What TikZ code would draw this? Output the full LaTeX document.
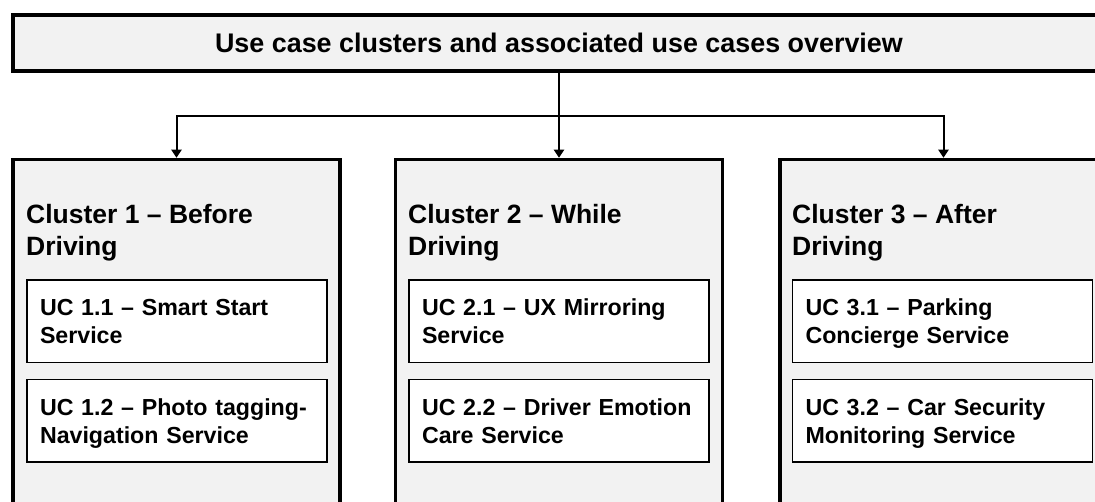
\documentclass[tikz,border=0pt]{standalone}
\usepackage{fontspec}
\setmainfont{Liberation Sans}
\usetikzlibrary{arrows.meta}
\definecolor{boxgray}{HTML}{F2F2F2}
\newcommand{\uctext}[2]{\rule{0pt}{22pt}#1\\#2\rule[-4.5pt]{0pt}{4.5pt}}
\begin{document}
\begin{tikzpicture}[x=1pt,y=-1pt,
  frame/.style={draw=black, line width=3.5pt, fill=boxgray, inner sep=0pt},
  titlebox/.style={frame, minimum width=1092pt, minimum height=56pt,
    font=\fontsize{26.9}{32}\selectfont\bfseries},
  cluster/.style={frame, minimum width=327pt, minimum height=360pt},
  heading/.style={anchor=north west, inner sep=0pt, align=left,
    font=\fontsize{26.5}{32}\selectfont\bfseries},
  ucbox/.style={draw=black, line width=1.3pt, fill=white, minimum width=300pt,
    minimum height=82.5pt, inner xsep=13pt, inner ysep=0pt, text width=274pt,
    align=left, font=\fontsize{23.2}{28}\selectfont\bfseries},
  conn/.style={draw=black, line width=2pt},
  arr/.style={conn, -{Triangle[width=10pt,length=8pt]}}]
\useasboundingbox (0,0) rectangle (1095,502);
\clip (0,0) rectangle (1095,502);

\node[titlebox] (title) at (559,43) {Use case clusters and associated use cases overview};

\node[cluster] (c1) at (176.5,339.5) {};
\node[cluster] (c2) at (559,339.5) {};
\node[cluster] (c3) at (943.5,339.5) {};

\coordinate (j) at (559,116);
\draw[arr] (title.south) -- (c2.north);
\draw[arr] (j) -| (c1.north);
\draw[arr] (j) -| (c3.north);

\node[heading] (h1) at (26,203.7) {Cluster 1 -- Before\\Driving};
\node[heading] (h2) at (408,203.7) {Cluster 2 -- While\\Driving};
\node[heading] (h3) at (792,203.7) {Cluster 3 -- After\\Driving};

\node[ucbox] (u11) at (177,321.25) {\uctext{UC 1.1 -- Smart Start}{Service}};
\node[ucbox] (u12) at (177,420.75) {\uctext{UC 1.2 -- Photo tagging-}{Navigation Service}};
\node[ucbox] (u21) at (559,321.25) {\uctext{UC 2.1 -- UX Mirroring}{Service}};
\node[ucbox] (u22) at (559,420.75) {\uctext{UC 2.2 -- Driver Emotion}{Care Service}};
\node[ucbox] (u31) at (942.5,321.25) {\uctext{UC 3.1 -- Parking}{Concierge Service}};
\node[ucbox] (u32) at (942.5,420.75) {\uctext{UC 3.2 -- Car Security}{Monitoring Service}};
\end{tikzpicture}
\end{document}
